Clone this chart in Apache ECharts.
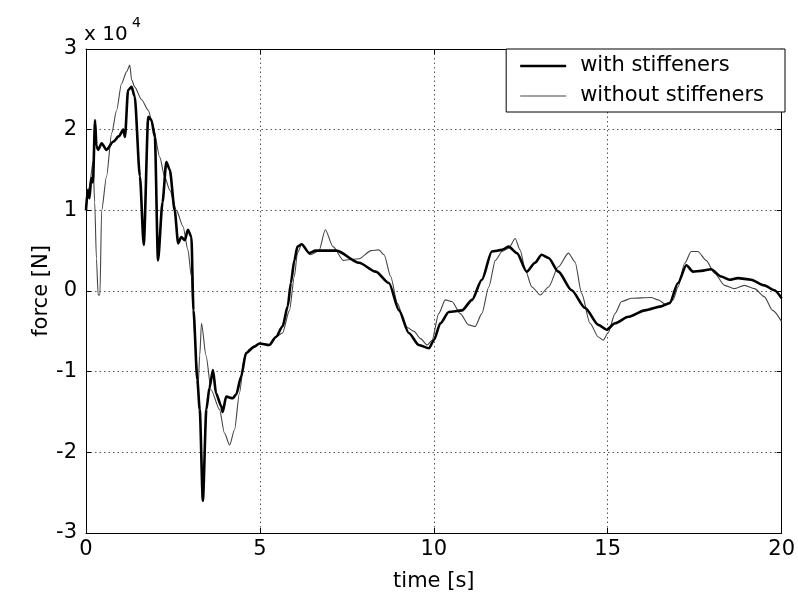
<!DOCTYPE html>
<html>
<head>
<meta charset="utf-8">
<script src="https://cdn.jsdelivr.net/npm/echarts@6/dist/echarts.min.js"></script>
<style>html,body{margin:0;padding:0;background:#fff}#c{width:798px;height:603px}</style>
</head>
<body>
<div id="c"></div>
<script>
// force in units of 1e4 N, time in s
var withTime = [0, 0.05, 0.1, 0.15, 0.2, 0.26, 0.3, 0.35, 0.45, 0.59, 0.78, 0.95, 1.07, 1.12, 1.21, 1.31, 1.4, 1.55, 1.66, 1.79,
  1.88, 1.98, 2.07, 2.2, 2.31, 2.41, 2.55, 2.65, 2.74, 2.84, 2.93, 3.03, 3.09, 3.2, 3.27, 3.36, 3.46, 3.55, 3.65, 3.74,
  3.89, 3.93, 4.03, 4.22, 4.32, 4.46, 4.6, 4.84, 4.99, 5.27, 5.46, 5.65, 5.8, 5.89, 5.99, 6.08, 6.2, 6.42, 6.6, 7.0,
  7.2, 7.85, 8.33, 8.71, 9.0, 9.28, 9.57, 9.86, 10.0, 10.19, 10.43, 10.81, 11.1, 11.38, 11.67, 11.96, 12.15, 12.39, 12.67, 12.91,
  13.1, 13.3, 13.58, 13.96, 14.35, 14.73, 14.97, 15.21, 15.59, 16.07, 16.54, 16.78, 17.02, 17.26, 17.45, 17.69, 17.97, 18.26, 18.5, 18.74,
  19.12, 19.5, 19.79, 20];
var withForce = [1.0, 1.25, 1.15, 1.4, 1.35, 2.12, 1.8, 1.75, 1.83, 1.75, 1.85, 1.92, 2.0, 1.91, 2.49, 2.53, 2.41, 1.42, 0.57, 2.16,
  2.12, 1.91, 0.38, 1.1, 1.6, 1.5, 1.0, 0.59, 0.67, 0.63, 0.76, 0.67, -0.24, -1.1, -1.47, -2.6, -1.47, -1.2, -0.98, -1.27,
  -1.43, -1.5, -1.31, -1.33, -1.28, -1.06, -0.77, -0.69, -0.65, -0.67, -0.57, -0.44, -0.19, 0.1, 0.38, 0.55, 0.58, 0.47, 0.5, 0.5,
  0.5, 0.35, 0.24, 0.1, -0.24, -0.52, -0.67, -0.71, -0.61, -0.4, -0.26, -0.24, -0.11, 0.14, 0.49, 0.51, 0.55, 0.47, 0.24, 0.35,
  0.45, 0.41, 0.24, 0.01, -0.21, -0.42, -0.48, -0.4, -0.32, -0.24, -0.19, -0.15, 0.1, 0.32, 0.24, 0.25, 0.27, 0.18, 0.14, 0.16,
  0.14, 0.07, 0.01, -0.09];

var withoutTime = [0, 0.1, 0.2, 0.25, 0.3, 0.35, 0.4, 0.45, 0.59, 0.74, 0.88, 1.02, 1.17, 1.26, 1.31, 1.4, 1.6, 1.79, 1.93, 2.12,
  2.26, 2.41, 2.6, 2.79, 2.93, 3.03, 3.07, 3.15, 3.22, 3.27, 3.32, 3.45, 3.6, 3.84, 3.98, 4.13, 4.27, 4.41, 4.56, 4.7,
  4.99, 5.27, 5.46, 5.65, 5.85, 5.99, 6.08, 6.2, 6.45, 6.7, 6.88, 7.1, 7.4, 7.85, 8.2, 8.42, 8.57, 8.76, 8.95, 9.19,
  9.43, 9.62, 9.81, 9.95, 10.14, 10.33, 10.52, 10.76, 11.0, 11.19, 11.38, 11.58, 11.77, 11.96, 12.15, 12.34, 12.48, 12.63, 12.82, 13.06,
  13.3, 13.58, 13.87, 14.06, 14.25, 14.49, 14.73, 14.87, 15.01, 15.21, 15.4, 15.68, 16.25, 16.45, 16.68, 16.88, 17.02, 17.21, 17.4, 17.59,
  17.83, 18.07, 18.36, 18.64, 18.93, 19.22, 19.5, 19.74, 20];
var withoutForce = [1.0, 1.3, 1.6, 1.1, 0.4, -0.05, -0.05, 1.0, 1.42, 1.96, 2.24, 2.57, 2.72, 2.8, 2.62, 2.53, 2.37, 2.24, 2.04, 1.66,
  1.42, 1.25, 1.0, 0.8, 0.51, 0.18, -0.15, -0.7, -1.2, -0.8, -0.4, -0.8, -1.23, -1.47, -1.76, -1.91, -1.72, -1.27, -0.81, -0.72,
  -0.65, -0.67, -0.57, -0.52, -0.24, 0.18, 0.47, 0.58, 0.45, 0.5, 0.76, 0.55, 0.38, 0.4, 0.5, 0.51, 0.45, 0.18, -0.15, -0.44,
  -0.5, -0.59, -0.67, -0.61, -0.28, -0.11, -0.13, -0.28, -0.42, -0.44, -0.28, 0.05, 0.38, 0.49, 0.53, 0.65, 0.51, 0.26, 0.05, -0.05,
  0.05, 0.3, 0.47, 0.36, -0.03, -0.4, -0.57, -0.61, -0.52, -0.28, -0.13, -0.09, -0.08, -0.11, -0.17, -0.11, 0.05, 0.34, 0.49, 0.49,
  0.38, 0.22, 0.07, 0.03, 0.07, 0.03, -0.07, -0.24, -0.38];

var seriesNames = ['with stiffeners', 'without stiffeners'];
var xTicks = [0, 5, 10, 15, 20];
var yTicks = [-3, -2, -1, 0, 1, 2, 3];
var xTitle = 'time [s]';
var yTitle = 'force [N]';

function pairs(t, f) { return t.map(function (v, i) { return [v, f[i]]; }); }

var FONT = '"DejaVu Sans", "Liberation Sans", sans-serif';
var FS = 21;
var chart = echarts.init(document.getElementById('c'));
var axisCommon = {
  type: 'value',
  axisLine: { show: true, onZero: false, lineStyle: { color: '#000', width: 1 } },
  axisTick: { show: true, inside: true, length: 5, lineStyle: { color: '#000' } }
};
chart.setOption({
  animation: false,
  backgroundColor: '#fff',
  grid: { left: 86, right: 14, top: 49, bottom: 70, containLabel: false },
  graphic: [
    { type: 'text', left: 84, top: 25, style: { text: 'x 10', font: '20px ' + FONT, fill: '#000' } },
    { type: 'text', left: 132, top: 16, style: { text: '4', font: '14px ' + FONT, fill: '#000' } }
  ],
  legend: {
    right: 13, top: 49, orient: 'vertical', align: 'left',
    backgroundColor: '#fff', borderColor: '#000', borderWidth: 1,
    padding: [5, 21, 4, 14], itemGap: 6, itemWidth: 46, itemHeight: 14,
    textStyle: { fontFamily: FONT, fontSize: FS, color: '#000', lineHeight: 24, padding: [0, 0, 0, 9] },
    data: [
      { name: seriesNames[0], icon: 'path://M0,0 M0,14 M0,5.7 H46 V8.3 H0 Z', itemStyle: { color: '#000', borderWidth: 0 } },
      { name: seriesNames[1], icon: 'path://M0,0 M0,14 M0,6.5 H46 V7.5 H0 Z', itemStyle: { color: '#444', borderWidth: 0 } }
    ]
  },
  xAxis: [
    Object.assign({}, axisCommon, {
      min: xTicks[0], max: xTicks[xTicks.length - 1], interval: 5, position: 'bottom',
      name: xTitle, nameLocation: 'middle', nameGap: 38, nameMoveOverlap: false,
      nameTextStyle: { fontFamily: FONT, fontSize: FS, color: '#000' },
      axisLabel: { fontFamily: FONT, fontSize: FS, color: '#000', margin: 6 },
      splitLine: { show: true, lineStyle: { color: '#555', type: [1.5, 3], width: 1 } }
    }),
    Object.assign({}, axisCommon, {
      min: xTicks[0], max: xTicks[xTicks.length - 1], interval: 5, position: 'top',
      axisLabel: { show: false }, splitLine: { show: false }
    })
  ],
  yAxis: [
    Object.assign({}, axisCommon, {
      min: yTicks[0], max: yTicks[yTicks.length - 1], interval: 1, position: 'left',
      name: yTitle, nameLocation: 'middle', nameGap: 34, nameMoveOverlap: false,
      nameTextStyle: { fontFamily: FONT, fontSize: FS, color: '#000' },
      axisLabel: { fontFamily: FONT, fontSize: FS, color: '#000', margin: 9 },
      splitLine: { show: true, lineStyle: { color: '#555', type: [1.5, 3], width: 1 } }
    }),
    Object.assign({}, axisCommon, {
      min: yTicks[0], max: yTicks[yTicks.length - 1], interval: 1, position: 'right',
      axisLabel: { show: false }, splitLine: { show: false }
    })
  ],
  series: [
    {
      name: seriesNames[0], type: 'line', data: pairs(withTime, withForce),
      showSymbol: false, symbol: 'none', smooth: 0.25, smoothMonotone: 'x', z: 3,
      lineStyle: { color: '#000', width: 2.6 }, itemStyle: { color: '#000' }
    },
    {
      name: seriesNames[1], type: 'line', data: pairs(withoutTime, withoutForce),
      showSymbol: false, symbol: 'none', smooth: 0.25, smoothMonotone: 'x', z: 2,
      lineStyle: { color: '#444', width: 1.1 }, itemStyle: { color: '#444' }
    }
  ]
});
</script>
</body>
</html>
